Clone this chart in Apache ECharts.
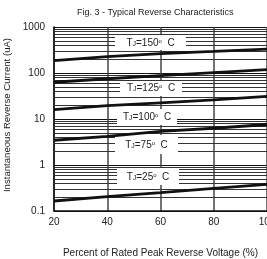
<!DOCTYPE html>
<html>
<head>
<meta charset="utf-8">
<script src="https://cdn.jsdelivr.net/npm/echarts@6/dist/echarts.min.js"></script>
<style>
html, body { margin: 0; padding: 0; background: #fff; }
#chart { width: 267px; height: 259px; }
</style>
</head>
<body>
<div id="chart"></div>
<script>
var voltage_pct = [20, 40, 60, 80, 100];
var current_150 = [185, 228, 265, 295, 330];
var current_125 = [63, 75, 88, 102, 118];
var current_100 = [16, 19.5, 22.5, 26, 31];
var current_75 = [3.45, 4.2, 5.4, 6.3, 7.6];
var current_25 = [0.165, 0.205, 0.25, 0.31, 0.38];
var temp_labels = ['150', '125', '100', '75', '25'];
// minor log grid values (2..9 in each decade)
var minor_grid = [0.2, 0.3, 0.4, 0.5, 0.6, 0.7, 0.8, 0.9,
    2, 3, 4, 5, 6, 7, 8, 9,
    20, 30, 40, 50, 60, 70, 80, 90,
    200, 300, 400, 500, 600, 700, 800, 900];

var chart = echarts.init(document.getElementById('chart'));

function pairs(ys) {
    return voltage_pct.map(function (x, i) { return [x, ys[i]]; });
}

function curve(ys) {
    return {
        type: 'line',
        data: pairs(ys),
        symbol: 'none',
        silent: true,
        lineStyle: { color: '#111', width: 2.8 },
        z: 5
    };
}

var font = 'Liberation Sans, Arial, sans-serif';

// white label boxes over the grid (kept under the curves)
var boxes = [
    { x: 115, y: 35, w: 71, h: 15, ty: 43 },
    { x: 120, y: 81, w: 62, h: 15, ty: 88 },
    { x: 117, y: 109, w: 60, h: 16, ty: 117 },
    { x: 115, y: 135, w: 63, h: 19, ty: 145 },
    { x: 117, y: 168, w: 62, h: 17, ty: 177 }
];
var graphics = [];
boxes.forEach(function (b, i) {
    graphics.push({
        type: 'rect', z: 3,
        shape: { x: b.x, y: b.y, width: b.w, height: b.h },
        style: { fill: '#fff' }
    });
    graphics.push({
        type: 'text', z: 4,
        x: b.x + b.w / 2, y: b.ty,
        style: {
            rich: {
                a: { fontSize: 10, fontFamily: font, fill: '#222' },
                j: { fontSize: 7, fontFamily: font, fill: '#222', padding: [2, 0, 0, 0] },
                d: { fontSize: 6, fontFamily: font, fill: '#222', padding: [0, 0, 4, 0] }
            },
            text: '{a|T}{j|J}{a|=' + temp_labels[i] + '}{d|o}{a|  C}',
            align: 'center',
            verticalAlign: 'middle'
        }
    });
});

var option = {
    animation: false,
    title: {
        text: 'Fig. 3 - Typical Reverse Characteristics',
        left: 72,
        top: 3,
        textStyle: { fontSize: 9, fontWeight: 'normal', color: '#222', fontFamily: font }
    },
    grid: { left: 54, right: 0, top: 27, bottom: 48, outerBoundsMode: 'none' },
    xAxis: {
        type: 'value',
        min: 20, max: 100, interval: 20,
        name: 'Percent of Rated Peak Reverse Voltage (%)',
        nameLocation: 'middle',
        nameGap: 37,
        nameTextStyle: { fontSize: 10, color: '#222', fontFamily: font },
        axisLine: { lineStyle: { color: '#111', width: 1.5 } },
        axisTick: { show: false },
        axisLabel: { fontSize: 10, color: '#222', fontFamily: font, margin: 6 },
        splitLine: { show: true, lineStyle: { color: '#444', width: 1.5 } }
    },
    yAxis: {
        type: 'log',
        logBase: 10,
        min: 0.1, max: 1000,
        name: 'Instantaneous Reverse Current (uA)',
        nameLocation: 'middle',
        nameGap: 33,
        nameTextStyle: { fontSize: 9.6, color: '#222', fontFamily: font, padding: [0, 0, 0, 8] },
        axisLine: { show: true, lineStyle: { color: '#111', width: 1.5 } },
        axisTick: { show: false },
        axisLabel: {
            fontSize: 10, color: '#222', fontFamily: font, margin: 9,
            formatter: function (v) { return String(v); }
        },
        splitLine: { show: true, lineStyle: { color: '#111', width: 1.2 } }
    },
    graphic: graphics,
    series: [
        {
            type: 'line',
            data: [],
            silent: true,
            markLine: {
                silent: true,
                symbol: 'none',
                animation: false,
                z: 1,
                label: { show: false },
                lineStyle: { color: '#333', width: 1, type: 'solid' },
                data: minor_grid.map(function (v) { return { yAxis: v }; })
            },
            z: 1
        },
        curve(current_150),
        curve(current_125),
        curve(current_100),
        curve(current_75),
        curve(current_25)
    ]
};

chart.setOption(option);
</script>
</body>
</html>
